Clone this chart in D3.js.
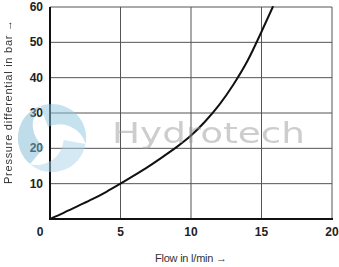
<!DOCTYPE html>
<html>
<head>
<meta charset="utf-8">
<script src="https://cdn.jsdelivr.net/npm/d3@7"></script>
<style>
  body { margin: 0; background: #fff; }
  svg { display: block; }
</style>
</head>
<body>
<div id="chart"></div>
<script>
// flow in l/min vs pressure differential in bar
const flow = [0, 1, 2, 3, 4, 5, 6, 7, 8, 9, 10, 11, 12, 13, 14, 15, 15.8];
const pressure = [0, 1.8, 3.7, 5.6, 7.7, 10, 12.4, 14.9, 17.6, 20.4, 23.6, 27.6, 32.3, 38, 44.7, 53, 60];
const xTicks = [0, 5, 10, 15, 20];
const yTicks = [0, 10, 20, 30, 40, 50, 60];

const W = 339, H = 267;
const margin = {top: 7, right: 7, bottom: 48, left: 50};
const width = W - margin.left - margin.right;
const height = H - margin.top - margin.bottom;

const x = d3.scaleLinear().domain([0, 20]).range([0, width]);
const y = d3.scaleLinear().domain([0, 60]).range([height, 0]);

const svg = d3.select("#chart").append("svg")
  .attr("width", W)
  .attr("height", H);

const g = svg.append("g")
  .attr("transform", `translate(${margin.left} ${margin.top})`);

// grid
g.append("g")
  .selectAll("line")
  .data(xTicks.slice(1))
  .join("line")
  .attr("x1", d => x(d)).attr("x2", d => x(d))
  .attr("y1", 0).attr("y2", height)
  .attr("stroke", "#555").attr("stroke-width", 1);

g.append("g")
  .selectAll("line")
  .data(yTicks.slice(1))
  .join("line")
  .attr("x1", 0).attr("x2", width)
  .attr("y1", d => y(d)).attr("y2", d => y(d))
  .attr("stroke", "#555").attr("stroke-width", 1);

// watermark
const wm = svg.append("g").attr("opacity", 0.5);
const lc = [52, 138], lr = 34;
for (let i = 0; i < 3; i++) {
  wm.append("path")
    .attr("transform", `translate(${lc[0]} ${lc[1]}) rotate(${i * 120 - 20})`)
    .attr("d", `M0,${-lr} A${lr},${lr} 0 0 1 ${lr * 0.87},${lr * 0.5} A${lr * 0.8},${lr * 0.8} 0 0 0 0,${-lr * 0.35} Z`)
    .attr("fill", ["#8cc4de", "#a9d3e6", "#7fb8d4"][i]);
}
wm.append("text")
  .attr("x", 112).attr("y", 143)
  .attr("font-family", "DejaVu Sans, sans-serif")
  .attr("font-size", 28)
  .attr("textLength", 193)
  .attr("lengthAdjust", "spacingAndGlyphs")
  .attr("fill", "#9a9a9a")
  .text("Hydrotech");

// axes lines
g.append("line")
  .attr("x1", 0).attr("x2", 0).attr("y1", 0).attr("y2", height + 1)
  .attr("stroke", "#111").attr("stroke-width", 2);
g.append("line")
  .attr("x1", -1).attr("x2", width + 1).attr("y1", height).attr("y2", height)
  .attr("stroke", "#111").attr("stroke-width", 2);

// curve
const line = d3.line()
  .x((d, i) => x(flow[i]))
  .y(d => y(d))
  .curve(d3.curveMonotoneX);

g.append("path")
  .datum(pressure)
  .attr("d", line)
  .attr("fill", "none")
  .attr("stroke", "#111")
  .attr("stroke-width", 2)
  .attr("stroke-linecap", "round");

// tick labels
const tickFont = "Liberation Sans Narrow, Liberation Sans, Arial, sans-serif";
g.append("g")
  .selectAll("text")
  .data(xTicks)
  .join("text")
  .attr("x", d => d === 0 ? -10 : x(d))
  .attr("y", height + 17)
  .attr("text-anchor", "middle")
  .attr("font-family", tickFont)
  .attr("font-weight", "bold")
  .attr("font-size", 12)
  .attr("fill", "#222")
  .text(d => d);

g.append("g")
  .selectAll("text")
  .data(yTicks.slice(1))
  .join("text")
  .attr("x", -7)
  .attr("y", d => y(d) + 4)
  .attr("text-anchor", "end")
  .attr("font-family", tickFont)
  .attr("font-weight", "bold")
  .attr("font-size", 12)
  .attr("fill", "#222")
  .text(d => d);

// axis titles
svg.append("text")
  .attr("x", 191).attr("y", 262)
  .attr("text-anchor", "middle")
  .attr("font-family", tickFont)
  .attr("font-size", 11)
  .attr("textLength", 72)
  .attr("fill", "#333")
  .text("Flow in l/min \u2192");

svg.append("text")
  .attr("transform", "translate(12 102) rotate(-90)")
  .attr("text-anchor", "middle")
  .attr("font-family", tickFont)
  .attr("font-size", 11)
  .attr("textLength", 164)
  .attr("fill", "#333")
  .text("Pressure differential in bar \u2192");
</script>
</body>
</html>
